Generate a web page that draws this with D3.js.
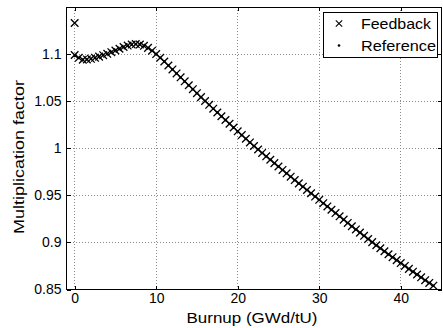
<!DOCTYPE html>
<html>
<head>
<meta charset="utf-8">
<script src="https://cdn.jsdelivr.net/npm/d3@7"></script>
<style>
  html, body { margin: 0; padding: 0; background: #fff; }
  svg { display: block; font-family: "Liberation Sans", Arial, sans-serif; }
</style>
</head>
<body>
<svg id="chart" width="443" height="328"></svg>
<script>
// Burnup steps (GWd/tU)
const burnup = [0, 0.5, 1, 1.5, 2, 2.5, 3, 3.5, 4, 4.5, 5, 5.5, 6, 6.5, 7, 7.5, 8, 8.5, 9, 9.5,
  10, 10.5, 11, 11.5, 12, 12.5, 13, 13.5, 14, 14.5, 15, 15.5, 16, 16.5, 17, 17.5, 18, 18.5, 19, 19.5,
  20, 20.5, 21, 21.5, 22, 22.5, 23, 23.5, 24, 24.5, 25, 25.5, 26, 26.5, 27, 27.5, 28, 28.5, 29, 29.5,
  30, 30.5, 31, 31.5, 32, 32.5, 33, 33.5, 34, 34.5, 35, 35.5, 36, 36.5, 37, 37.5, 38, 38.5, 39, 39.5,
  40, 40.5, 41, 41.5, 42, 42.5, 43, 43.5, 44];

// Multiplication factor with thermal-hydraulic feedback
const feedback = [1.099, 1.096, 1.094, 1.0943, 1.095, 1.096, 1.0973, 1.0988, 1.1003, 1.102,
  1.1038, 1.1057, 1.1075, 1.109, 1.1101, 1.1106, 1.1102, 1.1088, 1.1066, 1.1036,
  1.1, 1.0961, 1.0921, 1.0879, 1.0837, 1.0795, 1.0753, 1.0711, 1.0669, 1.0627,
  1.0585, 1.0543, 1.0502, 1.0461, 1.042, 1.038, 1.034, 1.03, 1.026, 1.022,
  1.018, 1.014, 1.0101, 1.0062, 1.0024, 0.9987, 0.995, 0.9914, 0.9878, 0.9842,
  0.9806, 0.977, 0.9734, 0.9698, 0.9662, 0.9627, 0.9592, 0.9557, 0.9522, 0.9487,
  0.9452, 0.9417, 0.9382, 0.9347, 0.9312, 0.9277, 0.9242, 0.9207, 0.9172, 0.9138,
  0.9104, 0.907, 0.9036, 0.9003, 0.897, 0.8938, 0.8906, 0.8874, 0.8843, 0.8812,
  0.8781, 0.875, 0.8719, 0.8689, 0.8659, 0.8629, 0.8599, 0.857, 0.8541];

// Fresh-fuel (no xenon) point of the feedback run
const feedbackFresh = { b: 0, k: 1.133 };

// Reference solution
const reference = [1.098, 1.0958, 1.0941, 1.0944, 1.0951, 1.0961, 1.0974, 1.0989, 1.1004, 1.1021,
  1.1039, 1.1057, 1.1074, 1.1089, 1.11, 1.1105, 1.1101, 1.1087, 1.1065, 1.1035,
  1.0999, 1.096, 1.092, 1.0878, 1.0836, 1.0794, 1.0752, 1.071, 1.0668, 1.0626,
  1.0584, 1.0542, 1.0501, 1.046, 1.0419, 1.0379, 1.0339, 1.0299, 1.0259, 1.0219,
  1.0179, 1.0139, 1.01, 1.0061, 1.0023, 0.9986, 0.9949, 0.9913, 0.9877, 0.9841,
  0.9805, 0.9769, 0.9733, 0.9697, 0.9661, 0.9626, 0.9591, 0.9556, 0.9521, 0.9486,
  0.9451, 0.9416, 0.9381, 0.9346, 0.9311, 0.9276, 0.9241, 0.9206, 0.9171, 0.9137,
  0.9103, 0.9069, 0.9035, 0.9002, 0.8969, 0.8937, 0.8905, 0.8873, 0.8842, 0.8811,
  0.878, 0.8749, 0.8718, 0.8688, 0.8658, 0.8628, 0.8598, 0.8569, 0.854];

const xTicks = [0, 10, 20, 30, 40];
const xTickLabels = ["0", "10", "20", "30", "40"];
const yTicks = [0.85, 0.9, 0.95, 1, 1.05, 1.1];
const yTickLabels = ["0.85", "0.9", "0.95", "1", "1.05", "1.1"];
const seriesNames = ["Feedback", "Reference"];

const svg = d3.select("#chart");
const plot = { left: 66.5, right: 441.5, top: 7, bottom: 289.5 };

const x = d3.scaleLinear().domain([-1, 45]).range([plot.left, plot.right]);
const y = d3.scaleLinear().domain([0.85, 1.15]).range([plot.bottom, plot.top]);

// Dotted grid
const grid = svg.append("g").attr("class", "grid");
grid.selectAll("line.vx").data(xTicks).join("line").attr("class", "vx")
  .attr("x1", d => x(d)).attr("x2", d => x(d))
  .attr("y1", plot.top).attr("y2", plot.bottom);
grid.selectAll("line.hy").data(yTicks).join("line").attr("class", "hy")
  .attr("x1", plot.left).attr("x2", plot.right)
  .attr("y1", d => y(d)).attr("y2", d => y(d));
grid.selectAll("line")
  .attr("stroke", "#8c8c8c").attr("stroke-width", 1)
  .attr("stroke-dasharray", "1,2").attr("shape-rendering", "crispEdges");

// Axes with inward ticks, mirrored on the opposite sides
function styleAxis(g) {
  g.select(".domain").remove();
  g.selectAll(".tick line").attr("stroke", "#000").attr("shape-rendering", "crispEdges");
  g.selectAll(".tick text").attr("fill", "#000").attr("font-size", 14)
    .attr("font-family", "'Liberation Sans', Arial, sans-serif");
}
const xAxis = d3.axisBottom(x).tickValues(xTicks)
  .tickFormat((d, i) => xTickLabels[i]).tickSize(-4).tickPadding(4);
svg.append("g").attr("transform", `translate(0,${plot.bottom})`).call(xAxis).call(styleAxis);
svg.append("g").attr("transform", `translate(0,${plot.top})`)
  .call(d3.axisTop(x).tickValues(xTicks).tickFormat("").tickSize(-4)).call(styleAxis);

const yAxis = d3.axisLeft(y).tickValues(yTicks)
  .tickFormat((d, i) => yTickLabels[i]).tickSize(-4).tickPadding(5);
svg.append("g").attr("transform", `translate(${plot.left},0)`).call(yAxis).call(styleAxis);
svg.append("g").attr("transform", `translate(${plot.right},0)`)
  .call(d3.axisRight(y).tickValues(yTicks).tickFormat("").tickSize(-4)).call(styleAxis);

// Box
svg.append("rect").attr("x", plot.left).attr("y", plot.top)
  .attr("width", plot.right - plot.left).attr("height", plot.bottom - plot.top)
  .attr("fill", "none").attr("stroke", "#000").attr("stroke-width", 1)
  .attr("shape-rendering", "crispEdges");

// Marks
const crossPath = s => `M${-s},${-s}L${s},${s}M${-s},${s}L${s},${-s}`;
const marks = svg.append("g");

const refPts = burnup.map((b, i) => ({ b, k: reference[i] }));
marks.selectAll("circle.ref").data(refPts).join("circle")
  .attr("class", "ref")
  .attr("cx", d => x(d.b)).attr("cy", d => y(d.k)).attr("r", 1.3)
  .attr("fill", "#000");

const fbPts = [feedbackFresh].concat(burnup.map((b, i) => ({ b, k: feedback[i] })));
marks.selectAll("path.fb").data(fbPts).join("path")
  .attr("class", "fb")
  .attr("transform", d => `translate(${x(d.b)},${y(d.k)})`)
  .attr("d", crossPath(3.8))
  .attr("stroke", "#000").attr("stroke-width", 1.3).attr("fill", "none");

// Legend
const lg = svg.append("g");
lg.append("rect").attr("x", 323).attr("y", 12.5).attr("width", 114).attr("height", 45)
  .attr("fill", "#fff").attr("stroke", "#000").attr("stroke-width", 1)
  .attr("shape-rendering", "crispEdges");
lg.append("path").attr("transform", "translate(339,23.5)").attr("d", crossPath(3.2))
  .attr("stroke", "#000").attr("stroke-width", 1.1);
lg.append("circle").attr("cx", 339).attr("cy", 45.5).attr("r", 1.3).attr("fill", "#000");
lg.selectAll("text").data(seriesNames).join("text")
  .attr("x", 361).attr("y", (d, i) => 28.5 + i * 22)
  .attr("font-size", 14).attr("textLength", (d, i) => i === 0 ? 70 : 75)
  .attr("lengthAdjust", "spacingAndGlyphs")
  .text(d => d);

// Axis titles
svg.append("text").attr("x", 252).attr("y", 323).attr("text-anchor", "middle")
  .attr("font-size", 15).attr("textLength", 131).attr("lengthAdjust", "spacingAndGlyphs")
  .text("Burnup (GWd/tU)");
svg.append("text").attr("transform", "translate(24,157) rotate(-90)")
  .attr("text-anchor", "middle")
  .attr("font-size", 15).attr("textLength", 154).attr("lengthAdjust", "spacingAndGlyphs")
  .text("Multiplication factor");
</script>
</body>
</html>
